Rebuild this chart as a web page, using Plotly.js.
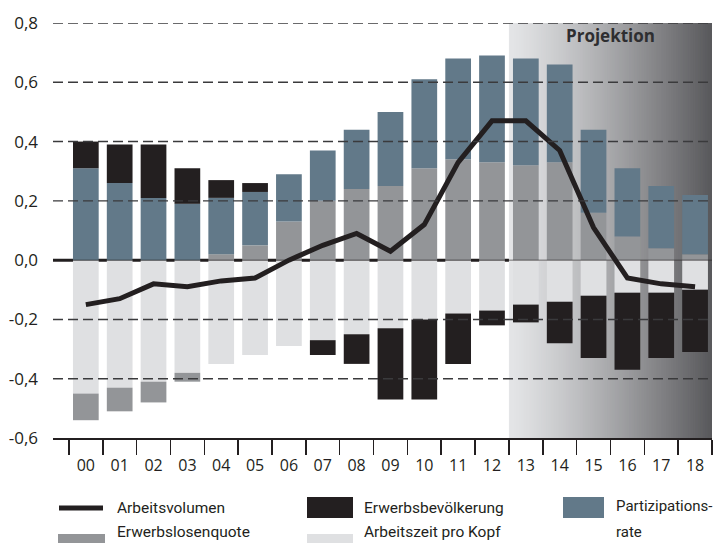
<!DOCTYPE html>
<html>
<head>
<meta charset="utf-8">
<script src="https://cdn.plot.ly/plotly-3.0.1.min.js"></script>
<style>html,body{margin:0;padding:0;background:#fff;}#chart{width:717px;height:543px;}</style>
</head>
<body>
<div id="chart"></div>
<script>
// ---- data ----
var years = ['00','01','02','03','04','05','06','07','08','09','10','11','12','13','14','15','16','17','18'];
var arbeitszeitProKopf = [-0.45,-0.43,-0.41,-0.38,-0.35,-0.32,-0.29,-0.27,-0.25,-0.23,-0.20,-0.18,-0.17,-0.15,-0.14,-0.12,-0.11,-0.11,-0.10];
var erwerbslosenquote = [-0.09,-0.08,-0.07,-0.03,0.02,0.05,0.13,0.20,0.24,0.25,0.31,0.34,0.33,0.32,0.33,0.16,0.08,0.04,0.02];
var partizipationsrate = [0.31,0.26,0.21,0.19,0.19,0.18,0.16,0.17,0.20,0.25,0.30,0.34,0.36,0.36,0.33,0.28,0.23,0.21,0.20];
var erwerbsbevoelkerung = [0.09,0.13,0.18,0.12,0.06,0.03,0.00,-0.05,-0.10,-0.24,-0.27,-0.17,-0.05,-0.06,-0.14,-0.21,-0.26,-0.22,-0.21];
var arbeitsvolumen = [-0.15,-0.13,-0.08,-0.09,-0.07,-0.06,0.00,0.05,0.09,0.03,0.12,0.33,0.47,0.47,0.37,0.11,-0.06,-0.08,-0.09];
var yTickVals = [-0.6,-0.4,-0.2,0,0.2,0.4,0.6,0.8];
var yTickText = ['-0,6','-0,4','-0,2','0,0','0,2','0,4','0,6','0,8'];
var gridVals = [-0.4,-0.2,0.2,0.4,0.6,0.8];
var projStart = 12.5, projEnd = 18.5;

// ---- styles ----
var C = {
  part: '#627989', eb: '#231f20', el: '#939598', az: '#dfe0e2', line: '#231f20', text: '#231f20'
};
var FONT = 'Open Sans, Noto Sans, DejaVu Sans, sans-serif';
var LFONT = 'Roboto, Open Sans, sans-serif';

// pixel helpers for legend (plot area: x 53..712, y 23..438)
var L = 53, R = 5, T = 23, B = 105, W = 717, H = 543;
var PW = W - L - R, PH = H - T - B;
function px(x) { return (x - L) / PW; }
function py(y) { return (H - B - y) / PH; }

var traces = [
  {type:'bar', name:'Arbeitszeit pro Kopf', x:years, y:arbeitszeitProKopf, marker:{color:C.az}},
  {type:'bar', name:'Erwerbslosenquote', x:years, y:erwerbslosenquote, marker:{color:C.el}},
  {type:'bar', name:'Partizipationsrate', x:years, y:partizipationsrate, marker:{color:C.part}},
  {type:'bar', name:'Erwerbsbevölkerung', x:years, y:erwerbsbevoelkerung, marker:{color:C.eb}},
  {type:'scatter', mode:'lines', name:'Arbeitsvolumen', x:years, y:arbeitsvolumen,
   line:{color:C.line, width:5, shape:'linear'}}
];

var shapes = [];
// projection gradient (nested rects, each extends to the right edge -> no seams)
var N = 120;
var c0 = [228,229,231], c1 = [88,88,91];
for (var i = 0; i < N; i++) {
  var t = (i + 0.5) / N;
  var f = Math.pow(t, 1.2);
  var col = 'rgb(' + c0.map(function(v, k){ return Math.round(v + (c1[k]-v)*f); }).join(',') + ')';
  shapes.push({type:'rect', layer:'below', xref:'x', yref:'y',
    x0: projStart + (projEnd-projStart)*i/N, x1: projEnd,
    y0:-0.6, y1:0.8, line:{width:0}, fillcolor:col});
}
// zero line
shapes.push({type:'line', layer:'below', xref:'paper', yref:'y', x0:0, x1:1, y0:0, y1:0, line:{color:'#231f20', width:3}});
shapes.push({type:'line', layer:'above', xref:'paper', yref:'y', x0:0, x1:1, y0:0, y1:0, line:{color:'rgba(35,31,32,0.6)', width:1}});
// gridlines above
gridVals.forEach(function(v){
  shapes.push({type:'line', layer:'above', xref:'paper', yref:'y', x0:0, x1:1, y0:v, y1:v,
    line:{color:'#3a3a3c', width:1.4, dash:'10px,5px'}});
});

// legend
function swatch(x0, x1, y0, y1, color) {
  shapes.push({type:'rect', xref:'paper', yref:'paper', x0:px(x0), x1:px(x1), y0:py(y1), y1:py(y0),
    line:{width:0}, fillcolor:color});
}
shapes.push({type:'line', xref:'paper', yref:'paper', x0:px(59), x1:px(103), y0:py(508), y1:py(508),
  line:{color:C.line, width:5}});
swatch(58, 105, 534, 556, C.el);
swatch(307, 353, 497, 518, C.eb);
swatch(307, 353, 534, 556, C.az);
swatch(563, 604, 497, 518, C.part);

function label(text, x, y, size) {
  return {text:text, xref:'paper', yref:'paper', x:px(x), y:py(y), xanchor:'left', yanchor:'middle',
    showarrow:false, borderpad:0, font:{family:LFONT, size:size || 15.5, color:C.text}};
}
var annotations = [
  label('Arbeitsvolumen', 116, 508),
  label('Erwerbslosenquote', 116, 532),
  label('Erwerbsbevölkerung', 363, 508),
  label('Arbeitszeit pro Kopf', 363, 532),
  label('Partizipations-', 615, 506, 15),
  label('rate', 615, 532, 15),
  {text:'<b>Projektion</b>', xref:'x', yref:'paper', x:15.5, y:py(35), xanchor:'center', yanchor:'middle',
   showarrow:false, font:{family:FONT, size:17, color:'#2e2e30'}}
];

var layout = {
  width:W, height:H,
  margin:{l:L, r:R, t:T, b:B, pad:0},
  paper_bgcolor:'#ffffff', plot_bgcolor:'#ffffff',
  barmode:'relative', bargap:0.24,
  showlegend:false,
  font:{family:FONT, color:C.text},
  xaxis:{type:'category', range:[-0.97, 18.5], showgrid:false, zeroline:false,
    showline:true, linecolor:'#231f20', linewidth:1.5,
    ticks:'outside', tickson:'boundaries', ticklen:15, tickwidth:1.5, tickcolor:'#231f20',
    ticklabelstandoff:12,
    tickfont:{family:FONT, size:16, color:C.text}, fixedrange:true},
  yaxis:{range:[-0.6, 0.8], showgrid:false, zeroline:false, showline:false,
    tickvals:yTickVals, ticktext:yTickText, ticks:'', ticklabelstandoff:14,
    tickfont:{family:FONT, size:17, color:C.text}, fixedrange:true},
  shapes:shapes,
  annotations:annotations,
  hovermode:false
};

Plotly.newPlot('chart', traces, layout, {displayModeBar:false, staticPlot:true});
</script>
</body>
</html>
